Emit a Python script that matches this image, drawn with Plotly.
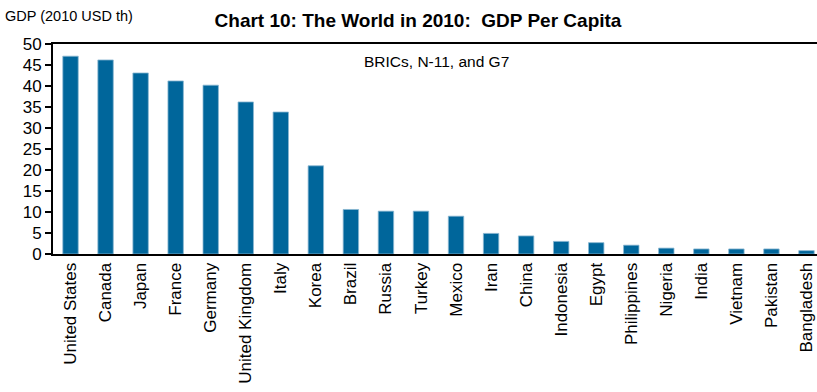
import plotly.graph_objects as go

# GDP per capita, 2010, thousands of USD
countries = ["United States", "Canada", "Japan", "France", "Germany", "United Kingdom",
             "Italy", "Korea", "Brazil", "Russia", "Turkey", "Mexico", "Iran", "China",
             "Indonesia", "Egypt", "Philippines", "Nigeria", "India", "Vietnam",
             "Pakistan", "Bangladesh"]
gdp_per_capita = [47.1, 46.2, 43.1, 41.2, 40.2, 36.2, 33.8, 21.0, 10.6, 10.2, 10.2, 9.0,
                  4.9, 4.3, 3.0, 2.7, 2.1, 1.4, 1.2, 1.2, 1.2, 0.8]
y_ticks = [0, 5, 10, 15, 20, 25, 30, 35, 40, 45, 50]

FONT = "Liberation Sans, Arial, sans-serif"

fig = go.Figure(
    go.Bar(
        x=countries,
        y=gdp_per_capita,
        marker=dict(color="#00669B", line=dict(color="#8ab8d2", width=0.8)),
        width=0.44,
    )
)

fig.update_layout(
    width=817,
    height=392,
    margin=dict(l=53, r=0, t=44, b=138),
    plot_bgcolor="white",
    paper_bgcolor="white",
    showlegend=False,
    font=dict(family=FONT, color="black"),
    title=dict(
        text="<b>Chart 10: The World in 2010:  GDP Per Capita</b>",
        x=418 / 817,
        xanchor="center",
        y=1 - 20 / 392,
        yanchor="middle",
        font=dict(size=19, family=FONT, color="black"),
    ),
    xaxis=dict(
        range=[-0.5, 21.3],
        showline=True,
        linecolor="black",
        linewidth=2,
        mirror=True,
        ticks="",
        tickangle=-90,
        tickfont=dict(size=17, family=FONT),
        showgrid=False,
        fixedrange=True,
    ),
    yaxis=dict(
        range=[0, 50],
        tickvals=y_ticks,
        showline=True,
        linecolor="black",
        linewidth=2,
        ticks="outside",
        ticklen=6,
        tickwidth=1.5,
        tickcolor="black",
        tickfont=dict(size=17, family=FONT),
        showgrid=False,
        zeroline=False,
        fixedrange=True,
    ),
    annotations=[
        dict(
            text="GDP (2010 USD th)",
            xref="paper", yref="paper",
            x=-50 / 764, y=1 + 28 / 210,
            xanchor="left", yanchor="middle",
            showarrow=False,
            font=dict(size=14.5, family=FONT),
        ),
        dict(
            text="BRICs, N-11, and G7",
            xref="paper", yref="paper",
            x=(436 - 53) / 764, y=1 - 17 / 210,
            xanchor="center", yanchor="middle",
            showarrow=False,
            font=dict(size=15.5, family=FONT),
        ),
    ],
)

fig.write_html("out.html", config={"displayModeBar": False})
